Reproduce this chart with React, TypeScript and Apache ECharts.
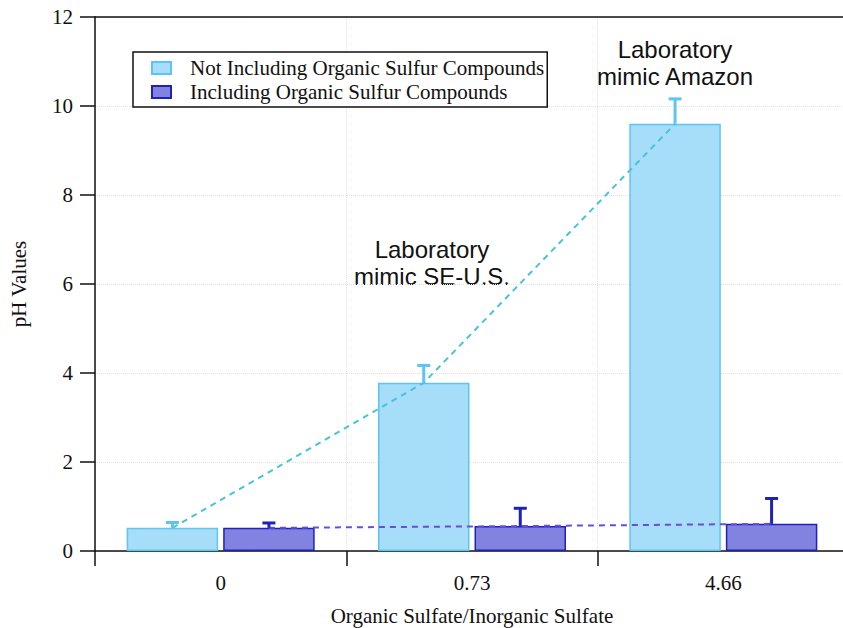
import React, { useEffect, useRef } from "react";
import * as echarts from "echarts";

// Organic sulfate / inorganic sulfate ratios
const categories = ["0", "0.73", "4.66"];
// pH without organic sulfur compounds
const phWithoutOrganic = [0.52, 3.78, 9.6];
// pH including organic sulfur compounds
const phWithOrganic = [0.52, 0.56, 0.61];
// upper ends of the error bars
const errTopWithoutOrganic = [0.64, 4.17, 10.16];
const errTopWithOrganic = [0.63, 0.96, 1.18];

const yTickStep = 2;
const yMax = 12;

const SERIF = "'Liberation Serif', 'Times New Roman', serif";
const SANS = "'Liberation Sans', Arial, sans-serif";

// bar sizing as a fraction of the category band
const BAR_FRAC = 0.364;
const GAP_FRAC = 0.055;
const HALF_SHIFT = (BAR_FRAC * (1 + GAP_FRAC)) / 2;

const LIGHT_FILL = "#A6DDF9";
const LIGHT_EDGE = "#5EC4F1";
const DARK_FILL = "#8283E1";
const DARK_EDGE = "#1E22B6";

const NAME_A = "Not Including Organic Sulfur Compounds";
const NAME_B = "Including Organic Sulfur Compounds";

function errorBarSeries(tops: number[], values: number[], side: number, color: string) {
  return {
    type: "custom",
    xAxisIndex: 0,
    yAxisIndex: 0,
    z: 5,
    silent: true,
    data: categories.map((_, i) => [i, values[i], tops[i]]),
    encode: { x: 0, y: [1, 2] },
    renderItem: (_params: any, api: any) => {
      const cat = api.value(0);
      const base = api.coord([cat, api.value(1)]);
      const top = api.coord([cat, api.value(2)]);
      const band = api.size([1, 0])[0];
      const x = base[0] + side * band * HALF_SHIFT;
      const cap = 6.5;
      return {
        type: "group",
        children: [
          {
            type: "line",
            shape: { x1: x, y1: base[1], x2: x, y2: top[1] },
            style: { stroke: color, lineWidth: 3 },
          },
          {
            type: "line",
            shape: { x1: x - cap, y1: top[1], x2: x + cap, y2: top[1] },
            style: { stroke: color, lineWidth: 3 },
          },
        ],
      };
    },
  };
}

function trendData(values: number[], side: number) {
  return values.map((v, i) => [i + 0.5 + side * HALF_SHIFT, v]);
}

export default function App() {
  const ref = useRef<HTMLDivElement>(null);

  useEffect(() => {
    if (!ref.current) return;
    const chart = echarts.init(ref.current, null, { renderer: "svg" });
    chart.setOption({
      animation: false,
      backgroundColor: "#ffffff",
      grid: {
        left: 95,
        right: -6,
        top: 17,
        bottom: 77,
        containLabel: false,
        outerBoundsMode: "none",
      },
      legend: {
        data: [NAME_A, NAME_B],
        orient: "vertical",
        left: 133,
        top: 52,
        backgroundColor: "#ffffff",
        borderColor: "#111",
        borderWidth: 1.5,
        padding: [4, 3, 3, 18],
        itemWidth: 19,
        itemHeight: 12,
        itemGap: 0,
        icon: "rect",
        textStyle: {
          fontFamily: SERIF,
          fontSize: 21,
          color: "#111",
          lineHeight: 24,
          padding: [0, 0, 0, 14],
        },
      },
      xAxis: [
        {
          type: "category",
          data: categories,
          position: "bottom",
          name: "Organic Sulfate/Inorganic Sulfate",
          nameLocation: "middle",
          nameGap: 54,
          nameTextStyle: { fontFamily: SERIF, fontSize: 21, color: "#111" },
          axisLine: { show: true, lineStyle: { color: "#111", width: 1.5 } },
          axisTick: { show: true, length: 15, lineStyle: { color: "#111", width: 1.5 } },
          axisLabel: { fontFamily: SERIF, fontSize: 21, color: "#111", margin: 21 },
          splitLine: { show: true, lineStyle: { color: "#e2e2e2", type: "dotted", width: 1 } },
        },
        {
          type: "value",
          min: 0,
          max: 3,
          position: "top",
          axisLine: { show: true, lineStyle: { color: "#111", width: 1.5 } },
          axisTick: { show: false },
          axisLabel: { show: false },
          splitLine: { show: false },
        },
      ],
      yAxis: {
        type: "value",
        min: 0,
        max: yMax,
        interval: yTickStep,
        name: "pH Values",
        nameLocation: "middle",
        nameGap: 66,
        nameTextStyle: { fontFamily: SERIF, fontSize: 21, color: "#111" },
        axisLine: { show: true, lineStyle: { color: "#111", width: 1.5 } },
        axisTick: { show: true, length: 15, lineStyle: { color: "#111", width: 1.5 } },
        axisLabel: { fontFamily: SERIF, fontSize: 21, color: "#111", margin: 22 },
        splitLine: { show: true, lineStyle: { color: "#e2e2e2", type: "dotted", width: 1 } },
      },
      series: [
        {
          name: NAME_A,
          type: "bar",
          xAxisIndex: 0,
          data: phWithoutOrganic,
          barWidth: `${BAR_FRAC * 100}%`,
          barGap: `${GAP_FRAC * 100}%`,
          itemStyle: { color: LIGHT_FILL, borderColor: LIGHT_EDGE, borderWidth: 1.5 },
          z: 2,
        },
        {
          name: NAME_B,
          type: "bar",
          xAxisIndex: 0,
          data: phWithOrganic,
          barWidth: `${BAR_FRAC * 100}%`,
          barGap: `${GAP_FRAC * 100}%`,
          itemStyle: { color: DARK_FILL, borderColor: DARK_EDGE, borderWidth: 1.5 },
          z: 2,
        },
        {
          name: "trend-without",
          type: "line",
          xAxisIndex: 1,
          data: trendData(phWithoutOrganic, -1),
          symbol: "none",
          silent: true,
          z: 4,
          lineStyle: { color: "#47C3DA", width: 2, type: [6, 5] },
        },
        {
          name: "trend-with",
          type: "line",
          xAxisIndex: 1,
          data: trendData(phWithOrganic, 1),
          symbol: "none",
          silent: true,
          z: 4,
          lineStyle: { color: "#6A4CD9", width: 2, type: [6, 5] },
        },
        errorBarSeries(errTopWithoutOrganic, phWithoutOrganic, -1, LIGHT_EDGE),
        errorBarSeries(errTopWithOrganic, phWithOrganic, 1, DARK_EDGE),
      ],
      graphic: [
        {
          type: "text",
          x: 675,
          y: 36,
          style: {
            text: "Laboratory\nmimic Amazon",
            font: `24px ${SANS}`,
            fill: "#111",
            textAlign: "center",
            textVerticalAlign: "top",
            lineHeight: 27,
          },
        },
        {
          type: "text",
          x: 432,
          y: 236,
          style: {
            text: "Laboratory\nmimic SE-U.S.",
            font: `24px ${SANS}`,
            fill: "#111",
            textAlign: "center",
            textVerticalAlign: "top",
            lineHeight: 27,
          },
        },
      ],
    });
    return () => chart.dispose();
  }, []);

  return (
    <div
      ref={ref}
      style={{ position: "fixed", left: 0, top: 0, width: 843, height: 628 }}
    />
  );
}
